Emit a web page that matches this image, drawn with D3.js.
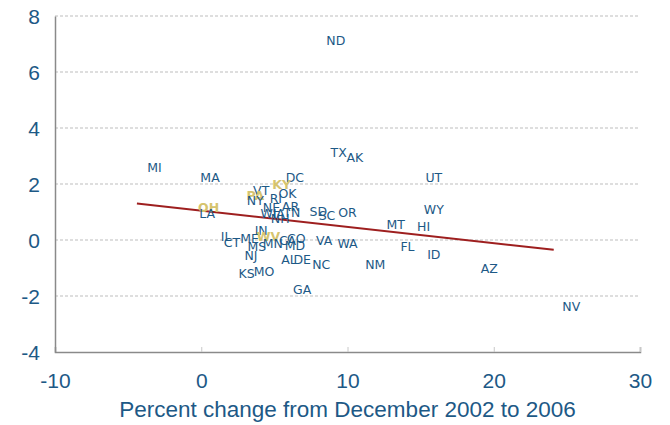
<!DOCTYPE html>
<html>
<head>
<meta charset="utf-8">
<script src="https://cdn.jsdelivr.net/npm/d3@7"></script>
<style>
  html, body { margin: 0; padding: 0; background: #fff; }
  svg { display: block; }
</style>
</head>
<body>
<svg id="chart" width="670" height="425"></svg>
<script>
// State abbreviations with x = percent change (Dec 2002 to 2006), y = vertical value
const states = ["ND","MI","MA","TX","AK","DC","UT","KY","VT","OK","PA","NY","RI","NE","AR","WY","OH","LA","WI","IA","NH","TN","SD","SC","OR","MT","HI","IN","IL","ME","WV","CT","CA","CO","VA","MS","MN","MD","WA","FL","NJ","ID","AL","DE","NC","NM","AZ","KS","MO","GA","NV"];
const xValues = [9.2,-3.2,0.6,9.4,10.5,6.4,15.9,5.5,4.1,5.9,3.7,3.7,5.1,4.8,6.1,15.9,0.5,0.4,4.6,5.3,5.4,6.2,8.0,8.6,10.0,13.3,15.2,4.1,1.7,3.3,4.6,2.1,5.9,6.5,8.4,3.8,4.9,6.4,10.0,14.1,3.4,15.9,6.0,6.9,8.2,11.9,19.7,3.1,4.3,6.9,25.3];
const yValues = [7.12,2.59,2.24,3.13,2.95,2.24,2.24,1.97,1.76,1.67,1.60,1.40,1.50,1.16,1.19,1.08,1.16,0.95,0.93,0.93,0.76,0.98,1.01,0.87,0.97,0.57,0.49,0.33,0.12,0.06,0.13,-0.08,0.00,0.04,0.00,-0.23,-0.12,-0.20,-0.14,-0.23,-0.54,-0.52,-0.68,-0.68,-0.86,-0.88,-1.03,-1.21,-1.12,-1.75,-2.37];
const highlighted = ["KY","PA","OH","WV"];

// Fitted trend line endpoints
const trendX = [-4.4, 24.1];
const trendY = [1.30, -0.35];

// Axis ticks
const xTicks = [-10, 0, 10, 20, 30];
const yTicks = [-4, -2, 0, 2, 4, 6, 8];
const xTitle = "Percent change from December 2002 to 2006";

const svg = d3.select("#chart");
const margin = { left: 55, right: 30, top: 16, bottom: 73 };
const W = 670, H = 425;

const x = d3.scaleLinear().domain([-10, 30]).range([margin.left, W - margin.right]);
const y = d3.scaleLinear().domain([-4, 8]).range([H - margin.bottom, margin.top]);

const blue = "#1d5986";
const gold = "#d6c46e";
const fmt = d => String(d); // plain hyphen for negatives

// Dashed horizontal gridlines
svg.append("g")
  .selectAll("line")
  .data(yTicks.filter(d => d > -4))
  .join("line")
  .attr("x1", x(-10)).attr("x2", x(30))
  .attr("y1", d => y(d)).attr("y2", d => y(d))
  .attr("stroke", "#bdbdbd")
  .attr("stroke-width", 1)
  .attr("stroke-dasharray", "3,2");

// X axis (ticks point upward into the plot)
const xAxis = svg.append("g")
  .attr("transform", `translate(0,${y(-4)})`)
  .call(d3.axisBottom(x).tickValues(xTicks).tickSize(-5).tickPadding(0).tickFormat(fmt));
xAxis.select(".domain").attr("stroke", "#8a8a8a").attr("stroke-width", 1.5);
xAxis.selectAll(".tick line").attr("stroke", "#c8c8c8");
xAxis.selectAll(".tick text")
  .attr("y", 36)
  .attr("dy", 0)
  .attr("fill", blue)
  .attr("font-family", "Liberation Sans, Arial, sans-serif")
  .attr("font-size", 21);

// Y axis
const yAxis = svg.append("g")
  .attr("transform", `translate(${x(-10)},0)`)
  .call(d3.axisLeft(y).tickValues(yTicks).tickSize(0).tickPadding(15).tickFormat(fmt));
yAxis.select(".domain").attr("stroke", "#8a8a8a").attr("stroke-width", 1.5);
yAxis.selectAll(".tick text")
  .attr("dy", "0.36em")
  .attr("fill", blue)
  .attr("font-family", "Liberation Sans, Arial, sans-serif")
  .attr("font-size", 21);

// Trend line
svg.append("line")
  .attr("x1", x(trendX[0])).attr("y1", y(trendY[0]))
  .attr("x2", x(trendX[1])).attr("y2", y(trendY[1]))
  .attr("stroke", "#9e1f1f")
  .attr("stroke-width", 2);

// State labels as markers
const pts = states.map((s, i) => ({ s, x: xValues[i], y: yValues[i] }));
svg.append("g")
  .selectAll("text")
  .data(pts)
  .join("text")
  .attr("x", d => x(d.x))
  .attr("y", d => y(d.y))
  .attr("dy", "0.36em")
  .attr("text-anchor", "middle")
  .attr("font-family", "DejaVu Sans, Verdana, sans-serif")
  .attr("font-size", 12.5)
  .attr("fill", d => highlighted.includes(d.s) ? gold : blue)
  .attr("font-weight", d => highlighted.includes(d.s) ? "bold" : "normal")
  .text(d => d.s);

// Axis title
svg.append("text")
  .attr("x", (x(-10) + x(30)) / 2)
  .attr("y", 417)
  .attr("text-anchor", "middle")
  .attr("fill", blue)
  .attr("font-family", "Liberation Sans, Arial, sans-serif")
  .attr("font-size", 22.5)
  .text(xTitle);
</script>
</body>
</html>
